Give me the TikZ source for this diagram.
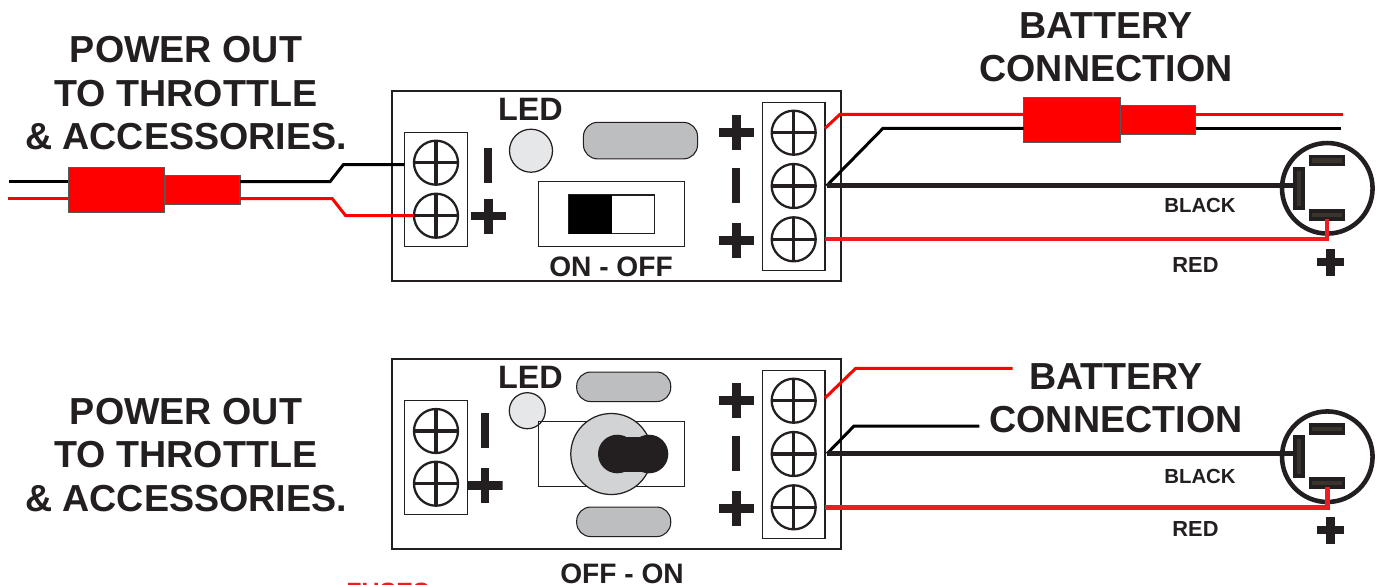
\documentclass[tikz,border=0pt]{standalone}
\usepackage{fontspec}
\setmainfont{Liberation Sans}
\definecolor{ink}{HTML}{231F20}
\definecolor{wirered}{HTML}{ED1C24}
\definecolor{ledgrey}{HTML}{E6E7E8}
\definecolor{padgrey}{HTML}{BCBEC0}
\definecolor{knobgrey}{HTML}{D1D3D4}
\definecolor{tabcore}{HTML}{3A352C}
\tikzset{
  title/.style={inner sep=0pt, text=ink, align=center, font=\fontsize{10.7}{12.38}\selectfont\bfseries},
  midlabel/.style={inner sep=0pt, anchor=base, text=ink, font=\fontsize{#1}{#1}\selectfont\bfseries},
  board/.style={draw=ink, line width=0.65pt, fill=white, minimum width=4.49cm, minimum height=1.90cm, inner sep=0pt, outer sep=0pt},
  termtwo/.style={draw=ink, line width=0.3pt, minimum width=0.626cm, minimum height=1.14cm, inner sep=0pt, outer sep=0pt},
  termthree/.style={draw=ink, line width=0.3pt, minimum width=0.623cm, minimum height=1.677cm, inner sep=0pt, outer sep=0pt},
  screw/.style={circle, draw=ink, line width=0.65pt, minimum size=0.44cm, inner sep=0pt, outer sep=0pt,
    path picture={\draw[ink, line width=1pt] (path picture bounding box.north) -- (path picture bounding box.south)
      (path picture bounding box.west) -- (path picture bounding box.east);}},
  plusmark/.style={minimum size=#1, inner sep=0pt, outer sep=0pt,
    path picture={\draw[ink, line width=2.5pt] (path picture bounding box.north) -- (path picture bounding box.south)
      (path picture bounding box.west) -- (path picture bounding box.east);}},
  plusmark/.default=0.35cm,
  minusmark/.style={fill=ink, minimum width=0.08cm, minimum height=0.35cm, inner sep=0pt, outer sep=0pt},
  pad/.style={draw=ink, line width=0.3pt, fill=padgrey, rounded corners=0.14cm, minimum height=#1, minimum width=0.94cm, inner sep=0pt, outer sep=0pt},
  led/.style={circle, draw=ink, line width=0.35pt, fill=ledgrey, inner sep=0pt, outer sep=0pt},
  slidebox/.style={draw=ink, line width=0.35pt, minimum width=1.456cm, minimum height=0.65cm, inner sep=0pt, outer sep=0pt},
  plugbig/.style={draw=ink!75, line width=0.3pt, fill=red, minimum width=0.966cm, minimum height=0.45cm, inner sep=0pt, outer sep=0pt},
  plugsmall/.style={draw=ink!75, line width=0.3pt, fill=red, minimum width=0.75cm, minimum height=0.295cm, inner sep=0pt, outer sep=0pt},
  redwire/.style={red, line width=0.85pt},
  blackwire/.style={black, line width=0.85pt},
  mainblack/.style={ink, line width=1.3pt},
  mainred/.style={wirered, line width=1.4pt},
  socket/.style={circle, draw=ink, line width=1.3pt, minimum size=0.905cm, inner sep=0pt, outer sep=0pt},
  tabflat/.style={draw=ink, line width=1.1pt, fill=tabcore, minimum width=0.33cm, minimum height=0.08cm, inner sep=0pt, outer sep=0pt},
  tabtall/.style={draw=ink, line width=1.1pt, fill=tabcore, minimum width=0.075cm, minimum height=0.39cm, inner sep=0pt, outer sep=0pt},
}
\begin{document}
\begin{tikzpicture}[x=0.01cm,y=-0.01cm]
    \useasboundingbox (0,0) rectangle (1381,584);
    \clip (0,0) rectangle (1381,584);

    \node[title] (titleA) at (186,93.5) {POWER OUT\\TO THROTTLE\\\& ACCESSORIES.};
    \node[title] (batA) at (1106,47) {BATTERY\\CONNECTION};

    \node[board] (boardA) at (616.3,186) {};
    \node[termtwo] (termLA) at (436,189.2) {};
    \node[termthree] (termRA) at (793.8,186.2) {};
    \node[screw] (sLA1) at (436,162.7) {};
    \node[screw] (sLA2) at (436,215.7) {};
    \node[screw] (sRA1) at (793.7,132.7) {};
    \node[screw] (sRA2) at (793.7,186) {};
    \node[screw] (sRA3) at (793.7,239.3) {};

    \node[minusmark] (mLA) at (488.3,165) {};
    \node[plusmark] (pLA) at (488.3,216) {};
    \node[plusmark] (pRA1) at (736.3,132.7) {};
    \node[minusmark] (mRA) at (736.3,185.2) {};
    \node[plusmark] (pRA2) at (736.3,240.3) {};

    \node[midlabel=9.2] (ledA) at (530.5,120.7) {LED};
    \node[led, minimum size=0.43cm] (lampA) at (531,150.7) {};
    \node[pad=0.365cm, minimum width=1.14cm] (padA) at (640.5,140.6) {};
    \node[slidebox] (slideA) at (611.5,214.2) {};
    \node[draw=ink, line width=0.35pt, minimum width=0.855cm, minimum height=0.385cm, inner sep=0pt] (knobA) at (611.5,214.3) {};
    \node[fill=black, minimum width=0.43cm, minimum height=0.385cm, inner sep=0pt] (leverA) at (590.2,214.3) {};
    \node[midlabel=8] (onoff) at (611,276) {ON - OFF};

    \coordinate (wA1) at (9,181.7);
    \coordinate (wA2) at (330,181.7);
    \coordinate (wA3) at (343.3,164.7);
    \coordinate (wA4) at (8,198.7);
    \coordinate (wA5) at (332.3,198.7);
    \coordinate (wA6) at (345.7,215.7);
    \node[plugbig] (plugLA) at (116.6,190.2) {};
    \node[plugsmall] (tipLA) at (202.5,190.2) {};
    \draw[blackwire] (wA1) -- (wA1 -| plugLA.west);
    \draw[blackwire] (wA2 -| tipLA.east) -- (wA2) -- (wA3) -- (wA3 -| termLA.west);
    \draw[redwire] (wA4) -- (wA4 -| plugLA.west);
    \draw[redwire] (wA5 -| tipLA.east) -- (wA5) -- (wA6) -- (wA6 -| sLA2.west);

    \coordinate (wA7) at (825,128.3);
    \coordinate (wA8) at (840,114.3);
    \coordinate (wA9) at (1343,114.3);
    \coordinate (wA10) at (826.7,185.7);
    \coordinate (wA11) at (883,128.3);
    \coordinate (wA12) at (1341,128.3);
    \node[plugbig] (plugRA) at (1072,120.2) {};
    \node[plugsmall] (tipRA) at (1158.2,120) {};
    \draw[redwire] (wA7) -- (wA8) -- (wA8 -| plugRA.west);
    \draw[redwire] (wA9 -| tipRA.east) -- (wA9);
    \draw[blackwire] (wA10) -- (wA11) -- (wA11 -| plugRA.west);
    \draw[blackwire] (wA12 -| tipRA.east) -- (wA12);

    \node[socket] (jackA) at (1327.3,188.3) {};
    \node[tabflat] (tabA1) at (1327,160.5) {};
    \node[tabflat] (tabA2) at (1327,215) {};
    \node[tabtall] (tabA3) at (1299,188.5) {};
    \coordinate (wA13) at (1330,239);
    \draw[mainblack] (wA10) -- (wA10 -| tabA3.west);
    \draw[mainred] (termRA.east |- wA13) -- (wA13 -| tabA2.south) -- (tabA2.south);
    \node[midlabel=5.8] (blackA) at (1200,212.3) {BLACK};
    \node[midlabel=6.2] (redA) at (1195.5,272.5) {RED};
    \node[plusmark=0.27cm] (pJackA) at (1330.3,262) {};

    \node[title] (titleB) at (186,455) {POWER OUT\\TO THROTTLE\\\& ACCESSORIES.};
    \node[title] (batB) at (1116,398) {BATTERY\\CONNECTION};

    \node[board] (boardB) at (616.3,454) {};
    \node[termtwo] (termLB) at (436,457.3) {};
    \node[termthree] (termRB) at (793.8,454.2) {};
    \node[screw] (sLB1) at (436,431) {};
    \node[screw] (sLB2) at (436,483.7) {};
    \node[screw] (sRB1) at (793.7,400.7) {};
    \node[screw] (sRB2) at (793.7,454) {};
    \node[screw] (sRB3) at (793.7,507.3) {};

    \node[minusmark] (mLB) at (484.7,430.8) {};
    \node[plusmark] (pLB) at (485,485.7) {};
    \node[plusmark] (pRB1) at (736.3,400.7) {};
    \node[minusmark] (mRB) at (736.3,453.2) {};
    \node[plusmark] (pRB2) at (736.3,508.3) {};

    \node[midlabel=9.2] (ledB) at (530.5,388.3) {LED};
    \node[led, minimum size=0.36cm] (lampB) at (527.3,410.7) {};
    \node[pad=0.295cm] (padB1) at (623.7,386.8) {};
    \node[pad=0.295cm] (padB2) at (623.7,521.8) {};
    \node[slidebox] (slideB) at (611.5,453.8) {};
    \node[circle, draw=ink, line width=0.35pt, fill=knobgrey, minimum size=0.81cm, inner sep=0pt] (knobB) at (611.3,454) {};
    \fill[ink] (617.3,454) circle (19.3);
    \fill[ink] (649,454) circle (19.3);
    \fill[ink] (617.3,436.5) rectangle (649,471.5);
    \node[midlabel=8] (offon) at (622,583.3) {OFF - ON};
    \node[midlabel=7.1, text=wirered] (fuses) at (388,600) {FUSES};

    \coordinate (wB1) at (825,398);
    \coordinate (wB2) at (855.7,368.3);
    \coordinate (wB3) at (1012.7,368.3);
    \coordinate (wB4) at (827,453.7);
    \coordinate (wB5) at (854,426);
    \coordinate (wB6) at (979.3,426);
    \draw[redwire] (wB1) -- (wB2) -- (wB3);
    \draw[blackwire] (wB4) -- (wB5) -- (wB6);

    \node[socket] (jackB) at (1327.3,456.7) {};
    \node[tabflat] (tabB1) at (1327,428.7) {};
    \node[tabflat] (tabB2) at (1327,483.3) {};
    \node[tabtall] (tabB3) at (1299,456.5) {};
    \coordinate (wB7) at (1330,507.7);
    \coordinate (wB8) at (1327.3,487.3);
    \draw[mainblack] (wB4) -- (wB4 -| tabB3.west);
    \draw[mainred] (termRB.east |- wB7) -- (wB7 -| wB8) -- (wB8);
    \node[midlabel=5.8] (blackB) at (1200,483.5) {BLACK};
    \node[midlabel=6.2] (redB) at (1195.5,536.5) {RED};
    \node[plusmark=0.27cm] (pJackB) at (1330.3,530) {};
\end{tikzpicture}
\end{document}
